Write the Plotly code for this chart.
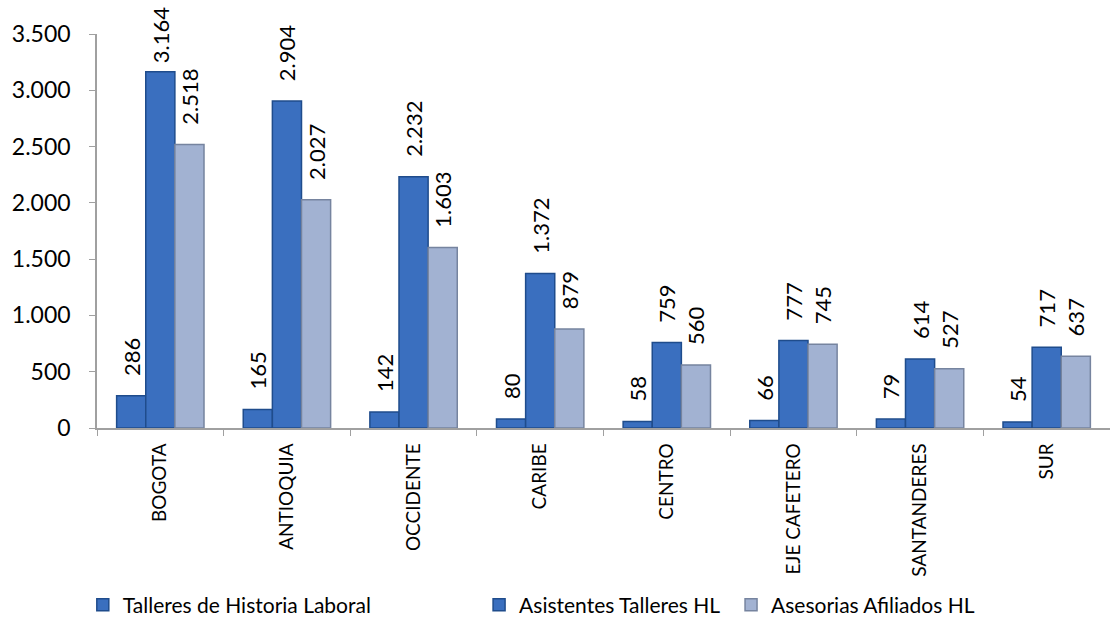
import plotly.graph_objects as go

regiones = ["BOGOTA", "ANTIOQUIA", "OCCIDENTE", "CARIBE", "CENTRO",
            "EJE CAFETERO", "SANTANDERES", "SUR"]
talleres = [286, 165, 142, 80, 58, 66, 79, 54]
asistentes = [3164, 2904, 2232, 1372, 759, 777, 614, 717]
asesorias = [2518, 2027, 1603, 879, 560, 745, 527, 637]

# name, values, fill, edge, legend id, legend left (fraction of the page)
series = [
    ("Talleres de Historia Laboral", talleres, "#3a6fbf", "#1f4c8c", "legend", 0.0746),
    ("Asistentes Talleres HL", asistentes, "#3a6fbf", "#1f4c8c", "legend2", 0.4316),
    ("Asesorias Afiliados HL", asesorias, "#a2b2d2", "#76849f", "legend3", 0.6586),
]

FONT = "Lato, Calibri, Carlito, sans-serif"
NBSP = "\u00a0"


def fmt(v):
    # thousands with a dot; a little padding keeps the rotated label off the bar,
    # less of it for the tallest bars which sit close to the top of the chart
    s = f"{v:,}".replace(",", ".")
    pad = 1 if v > 3000 else 3
    return NBSP * pad + s


fig = go.Figure()
for name, vals, fill, edge, leg, _ in series:
    fig.add_trace(go.Bar(
        x=regiones, y=vals, name=name, legend=leg,
        marker=dict(color=fill, line=dict(color=edge, width=1.5)),
        text=[fmt(v) for v in vals],
        textposition="outside", textangle=-90, constraintext="none",
        textfont=dict(family=FONT, size=22, color="#000000"),
        cliponaxis=False,
    ))

legend_style = dict(
    orientation="h", xref="container", yref="container",
    y=0.053, yanchor="middle", xanchor="left",
    font=dict(family=FONT, size=21, color="#000000"),
    itemwidth=30, bgcolor="rgba(0,0,0,0)",
)
legends = {}
for _, _, _, _, leg, xpos in series:
    legends[leg] = dict(legend_style, x=xpos)

fig.update_layout(
    width=1110, height=639,
    barmode="group", bargap=0.31, bargroupgap=0.0,
    margin=dict(l=97, r=0, t=34, b=211),
    plot_bgcolor="white", paper_bgcolor="white",
    separators=",.",
    font=dict(family=FONT, color="#000000"),
    showlegend=True,
    **legends,
)

fig.update_xaxes(
    tickangle=-90, tickfont=dict(family=FONT, size=19, color="#000000"),
    showline=True, linecolor="#a0a0a0", linewidth=1.5,
    ticks="outside", tickson="boundaries", ticklen=6, tickcolor="#a0a0a0",
    ticklabelstandoff=6, showgrid=False,
)
fig.update_yaxes(
    range=[0, 3500], tickvals=[0, 500, 1000, 1500, 2000, 2500, 3000, 3500],
    tickformat=",d", tickfont=dict(family=FONT, size=23, color="#000000"),
    showline=True, linecolor="#a0a0a0", linewidth=1.5,
    ticks="outside", ticklen=6, tickcolor="#a0a0a0",
    ticklabelstandoff=14, showgrid=False, zeroline=False,
)

fig.write_html("out.html")
